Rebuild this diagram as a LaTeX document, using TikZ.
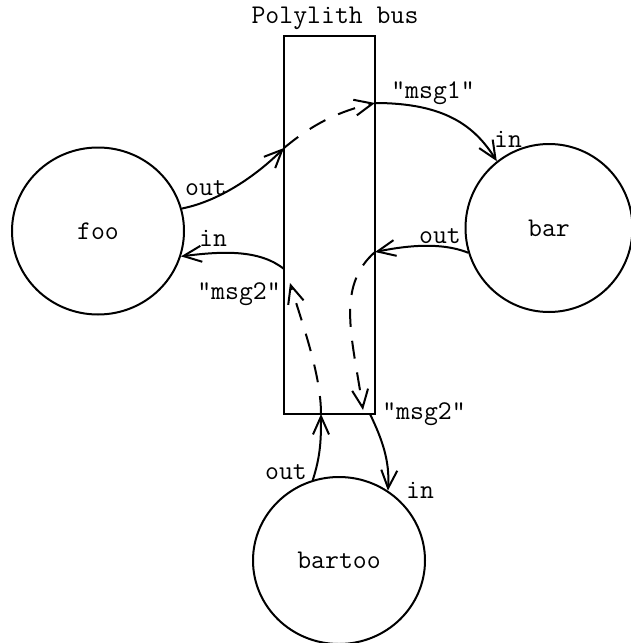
\documentclass[tikz,border=0pt]{standalone}
\usepackage{fontspec}
\usetikzlibrary{arrows.meta,shapes.geometric}
\tikzset{proc/.style={draw,ellipse,line width=1pt,minimum width=86pt,minimum height=83.5pt,inner sep=0pt},
         busbox/.style={draw,line width=1pt,minimum width=45.5pt,minimum height=189pt,inner sep=0pt},
         lbl/.style={inner sep=0pt},
         link/.style={line width=1pt,-{Straight Barb[length=9pt,width=8pt]}},
         relay/.style={link,dash pattern=on 9pt off 7pt}}

\begin{document}
\begin{tikzpicture}[x=0.5pt,y=-0.5pt,font=\ttfamily\fontsize{13.5}{16}\selectfont]
  \useasboundingbox (0,0) rectangle (631,643);
  % the bus and the three processes
  \node[busbox] (bus) at (329.5,225) {};
  \node[lbl] (busname) at (335,18) {Polylith bus};
  \node[proc] (foo) at (98,231) {foo};
  \node[proc,minimum width=83.5pt,minimum height=84pt] (bar) at (549,228) {bar};
  \node[proc] (bartoo) at (339,560.5) {bartoo};
  % where the messages meet the bus
  \coordinate (b1) at (284,148);
  \coordinate (b2) at (375,103);
  \coordinate (b3) at (375,252);
  \coordinate (b4) at (363,410);
  \coordinate (b5) at (370,414);
  \coordinate (b6) at (321,414);
  \coordinate (b7) at (290,283);
  \coordinate (b8) at (284,269);
  % msg1: foo -> bar
  \draw[link] (foo.15) .. controls +(40,-8) and +(-25,25) .. (b1);
  \draw[relay] (b1) .. controls +(30,-25) and +(-35,8) .. (b2);
  \draw[link] (b2) .. controls +(70,0) and +(-22,-35) .. (bar.128);
  % msg2: bar -> bartoo
  \draw[link] (bar.197) .. controls +(-30,-12) and +(25,-5) .. (b3);
  \draw[relay] (b3) .. controls +(-40,35) and +(-10,-70) .. (b4);
  \draw[link] (b5) .. controls +(12,25) and +(2,-30) .. (bartoo.55);
  % msg2: bartoo -> foo
  \draw[link] (bartoo.108) .. controls +(8,-25) and +(0,25) .. (b6);
  \draw[relay] (b6) .. controls +(0,-40) and +(12,40) .. (b7);
  \draw[link] (b8) .. controls +(-25,-20) and +(40,-5) .. (foo.-17);
  % port and message labels
  \node[lbl] (fooout) at (206,188) {out};
  \node[lbl] (fooin) at (213,238) {in};
  \node[lbl] (msgA) at (433,93) {"msg1"};
  \node[lbl] (barin) at (508,139) {in};
  \node[lbl] (barout) at (440,236) {out};
  \node[lbl] (msgB) at (239,294) {"msg2"};
  \node[lbl] (msgC) at (424,414) {"msg2"};
  \node[lbl] (bartooout) at (286,472) {out};
  \node[lbl] (bartooin) at (420,490) {in};
\end{tikzpicture}
\end{document}
